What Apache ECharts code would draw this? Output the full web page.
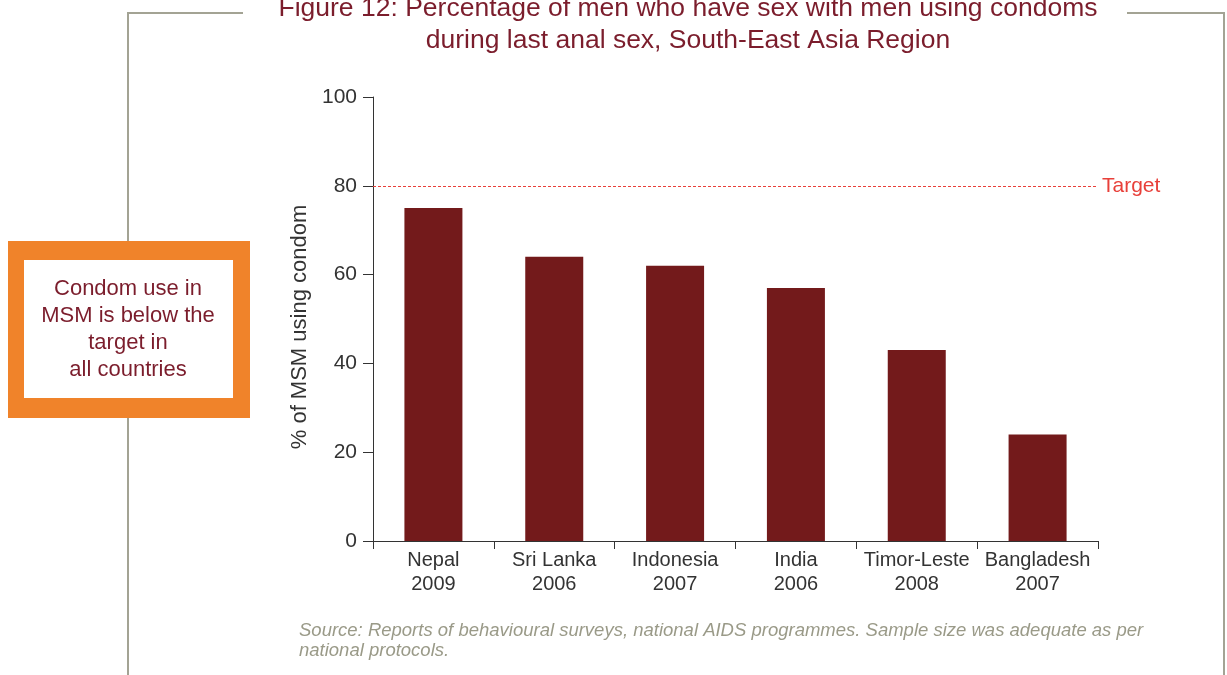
<!DOCTYPE html>
<html>
<head>
<meta charset="utf-8">
<script src="https://cdn.jsdelivr.net/npm/echarts@6/dist/echarts.min.js"></script>
<style>
html,body{margin:0;padding:0;background:#fff;}
#c{width:1227px;height:675px;}
</style>
</head>
<body>
<div id="c"></div>
<script>
var categories = ['Nepal\n2009', 'Sri Lanka\n2006', 'Indonesia\n2007', 'India\n2006', 'Timor-Leste\n2008', 'Bangladesh\n2007'];
var condomUse = [75, 64, 62, 57, 43, 24];
var targetValue = 80;
var yTicks = [0, 20, 40, 60, 80, 100];
var titleText = 'Figure 12: Percentage of men who have sex with men using condoms\nduring last anal sex, South-East Asia Region';
var yAxisName = '% of MSM using condom';
var calloutText = 'Condom use in\nMSM is below the\ntarget in\nall countries';
var sourceText = 'Source: Reports of behavioural surveys, national AIDS programmes. Sample size was adequate as per\nnational protocols.';

var font = '"Liberation Sans", Arial, Helvetica, sans-serif';
var chart = echarts.init(document.getElementById('c'), null, {renderer: 'canvas'});
var frameColor = '#a3a394';

chart.setOption({
  backgroundColor: '#ffffff',
  animation: false,
  title: {
    text: titleText,
    left: 683,
    textAlign: 'center',
    top: -12,
    textStyle: {fontFamily: font, fontSize: 26.5, fontWeight: 'normal', color: '#7b1d2c', lineHeight: 32}
  },
  grid: {left: 373, right: 129, top: 97, bottom: 134, containLabel: false},
  xAxis: {
    type: 'category',
    data: categories,
    axisLine: {show: true, lineStyle: {color: '#333', width: 1}},
    axisTick: {show: true, alignWithLabel: false, length: 8, lineStyle: {color: '#333'}},
    axisLabel: {fontFamily: font, fontSize: 20, color: '#333', lineHeight: 24, margin: 7, interval: 0}
  },
  yAxis: {
    type: 'value',
    min: 0, max: 100, interval: 20,
    name: yAxisName,
    nameLocation: 'middle',
    nameGap: 62,
    nameRotate: 90,
    nameTextStyle: {fontFamily: font, fontSize: 22, color: '#333', padding: [0, 16, 0, 0]},
    axisLine: {show: true, lineStyle: {color: '#333', width: 1}},
    axisTick: {show: true, length: 10, lineStyle: {color: '#333'}},
    axisLabel: {fontFamily: font, fontSize: 21, color: '#333', margin: 16,
      formatter: function(v){ return yTicks.indexOf(v) >= 0 ? String(v) : ''; }},
    splitLine: {show: false}
  },
  series: [{
    type: 'bar',
    data: condomUse,
    barWidth: '48%',
    itemStyle: {color: '#731a1b'},
    markLine: {
      silent: true,
      symbol: 'none',
      data: [{yAxis: targetValue}],
      lineStyle: {color: '#e8403a', type: [3, 2], width: 1},
      label: {show: true, position: 'end', formatter: 'Target', fontFamily: font, fontSize: 21, color: '#e8403a', distance: 4}
    }
  }],
  graphic: [
    {type: 'line', shape: {x1: 128, y1: 13, x2: 243, y2: 13}, style: {stroke: frameColor, lineWidth: 2}, silent: true},
    {type: 'line', shape: {x1: 1127, y1: 13, x2: 1225, y2: 13}, style: {stroke: frameColor, lineWidth: 2}, silent: true},
    {type: 'line', shape: {x1: 128, y1: 12, x2: 128, y2: 675}, style: {stroke: frameColor, lineWidth: 2}, silent: true},
    {type: 'line', shape: {x1: 1224, y1: 12, x2: 1224, y2: 675}, style: {stroke: frameColor, lineWidth: 2}, silent: true},
    {type: 'rect', shape: {x: 8, y: 241, width: 242, height: 177}, style: {fill: '#f0832a'}, silent: true},
    {type: 'rect', shape: {x: 24, y: 260, width: 209, height: 138}, style: {fill: '#ffffff'}, silent: true},
    {type: 'text', x: 128, y: 329, style: {text: calloutText, fontFamily: font, fontSize: 22, fill: '#7b1d2c', align: 'center', verticalAlign: 'middle', lineHeight: 27}, silent: true},
    {type: 'text', x: 299, y: 621, style: {text: sourceText, fontFamily: font, fontSize: 18.5, fontStyle: 'italic', fill: '#9a9a88', align: 'left', verticalAlign: 'top', lineHeight: 20}, silent: true}
  ]
});
</script>
</body>
</html>
